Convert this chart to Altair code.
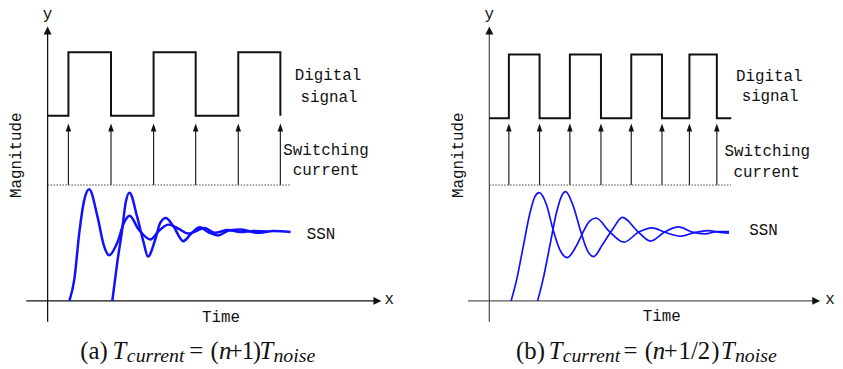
import altair as alt
import pandas as pd

# ---------------- data (time / magnitude units, origin = axes crossing)
# panel (a)
A_EDGES = [21, 64, 107, 149.5, 192.5, 235]          # digital signal edges = switching instants
A_LOW, A_HIGH = 187, 251                            # digital signal levels
A_SSN1_T = [22, 27, 32, 37, 42, 50.3, 57, 62, 70.3, 77, 82.7, 92, 103.7, 112, 122, 132, 142,
            158.7, 168.7, 182, 195, 208, 222]
A_SSN1_M = [0, 22, 69, 102, 112.7, 85.3, 55.3, 46, 58.7, 78.7, 86, 72, 62, 70.3, 77, 73, 68,
            73.5, 68.7, 71.5, 69.5, 70.5, 70]
A_SSN2_T = [65.3, 70.3, 75.3, 78.7, 82.7, 90.3, 97, 101.3, 108.7, 113.7, 119.3, 127, 137, 145,
            153.7, 163, 172, 183, 195.3, 212, 228, 245.3]
A_SSN2_M = [0, 38.7, 72, 98.7, 109.3, 85.3, 58.7, 44.7, 62, 78.7, 83.7, 75.3, 60.3, 68,
            74.3, 69, 66, 71, 72, 68.7, 70.5, 69.5]

# panel (b)
B_EDGES = [19.7, 50.7, 81.3, 112.7, 143.3, 174.3, 202, 229.7]
B_END = 244.3
B_LOW, B_HIGH = 184.3, 248.7
B_SSN1_T = [22, 27.7, 34.3, 41, 46, 50.3, 57.7, 64.3, 71, 78.7, 87.7, 94.3, 101, 107.7, 121,
            136, 150, 164.3, 178, 192.7, 207, 221, 231, 242]
B_SSN1_M = [0, 22, 55.3, 88.7, 105.3, 109.3, 97, 72, 52, 43.7, 55.3, 68.7, 80.3, 83.7, 70.3,
            59.3, 69, 73.7, 69, 65.3, 69, 71, 69.5, 68.5]
B_SSN2_T = [48.7, 54.3, 61, 67.7, 72.7, 77, 84.3, 92.7, 99.3, 105.3, 114.3, 124.3, 134.3, 150,
            162.7, 177, 191, 205, 217.7, 230, 242]
B_SSN2_M = [0, 22, 55.3, 88.7, 105.3, 110.3, 97, 68.7, 50.3, 44.7, 57, 72, 84.3, 70,
            60.3, 69.5, 74.7, 69.5, 67.7, 70, 70]

SWITCH_BASE = 117       # dotted reference level of the switching current arrows
SWITCH_TIP = 179

# caption pieces: (text, style)  n = upright, i = italic, s = italic subscript
CAP_A = [("(a)", "n"), ("T", "i"), ("current", "s"), ("=", "n"), ("(", "n"), ("n", "i"),
         ("+", "n"), ("1", "n"), (")", "n"), ("T", "i"), ("noise", "s")]
CAP_B = [("(b)", "n"), ("T", "i"), ("current", "s"), ("=", "n"), ("(", "n"), ("n", "i"),
         ("+", "n"), ("1", "n"), ("/", "n"), ("2", "n"), (")", "n"), ("T", "i"), ("noise", "s")]

# ---------------- layout
H = 358
YDOM = [-64, 294]
MONO = "Liberation Mono"
SERIF = "Liberation Serif"
BLUE = "#1010ff"
UP = "M0,-1L-1,1L1,1Z"
RIGHT = "M1,0L-1,-1L-1,1Z"
SMALL_UP = "M0,-1L-0.7,1L0.7,1Z"
CAP_A_POS = [33, 65.5, 80, 143, 164.5, 173, 183, 196, 207, 214, 228]
CAP_B_POS = [27, 60, 74, 135.5, 157, 165, 176, 191, 203.5, 210.5, 224, 234, 248]


def panel(W, xdom, edges, end_t, low, high, curves, dot_end, ax_color, curve_w,
          label_pos, x_tip, cap, cap_pos):
    xs = alt.Scale(domain=xdom, nice=False, zero=False)
    ys = alt.Scale(domain=YDOM, nice=False, zero=False)

    def X(f):
        return alt.X(f, type="quantitative", scale=xs, axis=None)

    def Y(f):
        return alt.Y(f, type="quantitative", scale=ys, axis=None)

    layers = []
    # axes
    yax = pd.DataFrame({"t": [0], "m0": [-21], "m1": [272]})
    layers.append(alt.Chart(yax).mark_rule(color=ax_color, strokeWidth=1.3).encode(
        x=X("t"), y=Y("m0"), y2="m1"))
    xax = pd.DataFrame({"t0": [-21.5], "t1": [x_tip - 4], "m": [0]})
    layers.append(alt.Chart(xax).mark_rule(color=ax_color, strokeWidth=1.3).encode(
        x=X("t0"), x2="t1", y=Y("m")))
    layers.append(alt.Chart(pd.DataFrame({"t": [0], "m": [273]})).mark_point(
        shape=UP, filled=True, size=64, color="#111", opacity=1).encode(x=X("t"), y=Y("m")))
    layers.append(alt.Chart(pd.DataFrame({"t": [x_tip - 4], "m": [0]})).mark_point(
        shape=RIGHT, filled=True, size=64, color="#111", opacity=1).encode(x=X("t"), y=Y("m")))

    # digital signal
    pts_t = [0] + list(edges)
    pts_m = [low] + [high if i % 2 == 0 else low for i in range(len(edges))]
    if end_t is not None:
        pts_t.append(end_t)
        pts_m.append(low)
    sig = pd.DataFrame({"t": pts_t, "m": pts_m})
    layers.append(alt.Chart(sig).mark_line(interpolate="step-after", color="#111",
                                           strokeWidth=2).encode(x=X("t"), y=Y("m")))

    # switching current arrows
    arr = pd.DataFrame({"t": edges, "m0": [SWITCH_BASE] * len(edges),
                        "m1": [SWITCH_TIP - 6] * len(edges), "mh": [SWITCH_TIP - 4] * len(edges)})
    layers.append(alt.Chart(arr).mark_rule(color="#222", strokeWidth=1.2).encode(
        x=X("t"), y=Y("m0"), y2="m1"))
    layers.append(alt.Chart(arr).mark_point(shape=SMALL_UP, filled=True, size=64,
                                            color="#111", opacity=1).encode(x=X("t"), y=Y("mh")))

    # dotted reference line
    dot = pd.DataFrame({"t0": [0], "t1": [dot_end], "m": [SWITCH_BASE]})
    layers.append(alt.Chart(dot).mark_rule(color="#444", strokeWidth=1,
                                           strokeDash=[1.5, 1.5]).encode(
        x=X("t0"), x2="t1", y=Y("m")))

    # SSN curves
    rows = []
    for k, (ts, ms) in enumerate(curves):
        for t, m in zip(ts, ms):
            rows.append({"s": k, "t": t, "m": m})
    layers.append(alt.Chart(pd.DataFrame(rows)).mark_line(
        interpolate="monotone", color=BLUE, strokeWidth=curve_w).encode(
        x=X("t"), y=Y("m"), detail="s:N"))

    # labels
    lab = pd.DataFrame(label_pos, columns=["text", "t", "m"])
    layers.append(alt.Chart(lab).mark_text(font=MONO, fontSize=16, color="#111", clip=True,
                                           align="center", baseline="alphabetic").encode(
        x=X("t"), y=Y("m"), text="text:N"))
    mag = pd.DataFrame({"text": ["Magnitude"], "t": [-32], "m": [147]})
    layers.append(alt.Chart(mag).mark_text(font=MONO, fontSize=16, color="#111", angle=270,
                                           clip=True, align="center",
                                           baseline="middle").encode(
        x=X("t"), y=Y("m"), text="text:N"))

    # caption
    cdf = pd.DataFrame({"text": [c[0] for c in cap], "style": [c[1] for c in cap],
                        "t": cap_pos})
    cdf["m"] = [-62 if s == "s" else -59 for s in cdf["style"]]
    for style, fstyle, fsize in [("n", "normal", 25), ("i", "italic", 25), ("s", "italic", 20)]:
        sub = cdf[cdf["style"] == style]
        layers.append(alt.Chart(sub).mark_text(font=SERIF, fontSize=fsize, fontStyle=fstyle,
                                               color="#111", align="left", clip=True,
                                               baseline="alphabetic").encode(
            x=X("t"), y=Y("m"), text="text:N"))

    return alt.layer(*layers).properties(width=W, height=H)


left = panel(
    413, [-40, 373], A_EDGES, None, A_LOW, A_HIGH,
    [(A_SSN1_T, A_SSN1_M), (A_SSN2_T, A_SSN2_M)], 245, "#111", 2.5,
    [("y", 0, 284.5), ("x", 345, -3), ("Time", 175, -21),
     ("Digital", 283, 223), ("signal", 284, 201), ("Switching", 281, 147.5),
     ("current", 281, 127), ("SSN", 276, 62.7)],
    337, CAP_A, CAP_A_POS)

right = panel(
    422, [-73, 349], B_EDGES, B_END, B_LOW, B_HIGH,
    [(B_SSN1_T, B_SSN1_M), (B_SSN2_T, B_SSN2_M)], 244, "#555", 1.7,
    [("y", 0, 284.5), ("x", 344, -3), ("Time", 174, -20),
     ("Digital", 282.7, 222), ("signal", 283.5, 202), ("Switching", 280.5, 146.3),
     ("current", 280, 125.3), ("SSN", 276.8, 67)],
    334, CAP_B, CAP_B_POS)

chart = alt.hconcat(left, right, spacing=0).properties(padding=0).configure_view(stroke=None)
chart.save("out.html", embed_options={"renderer": "svg", "actions": False})
